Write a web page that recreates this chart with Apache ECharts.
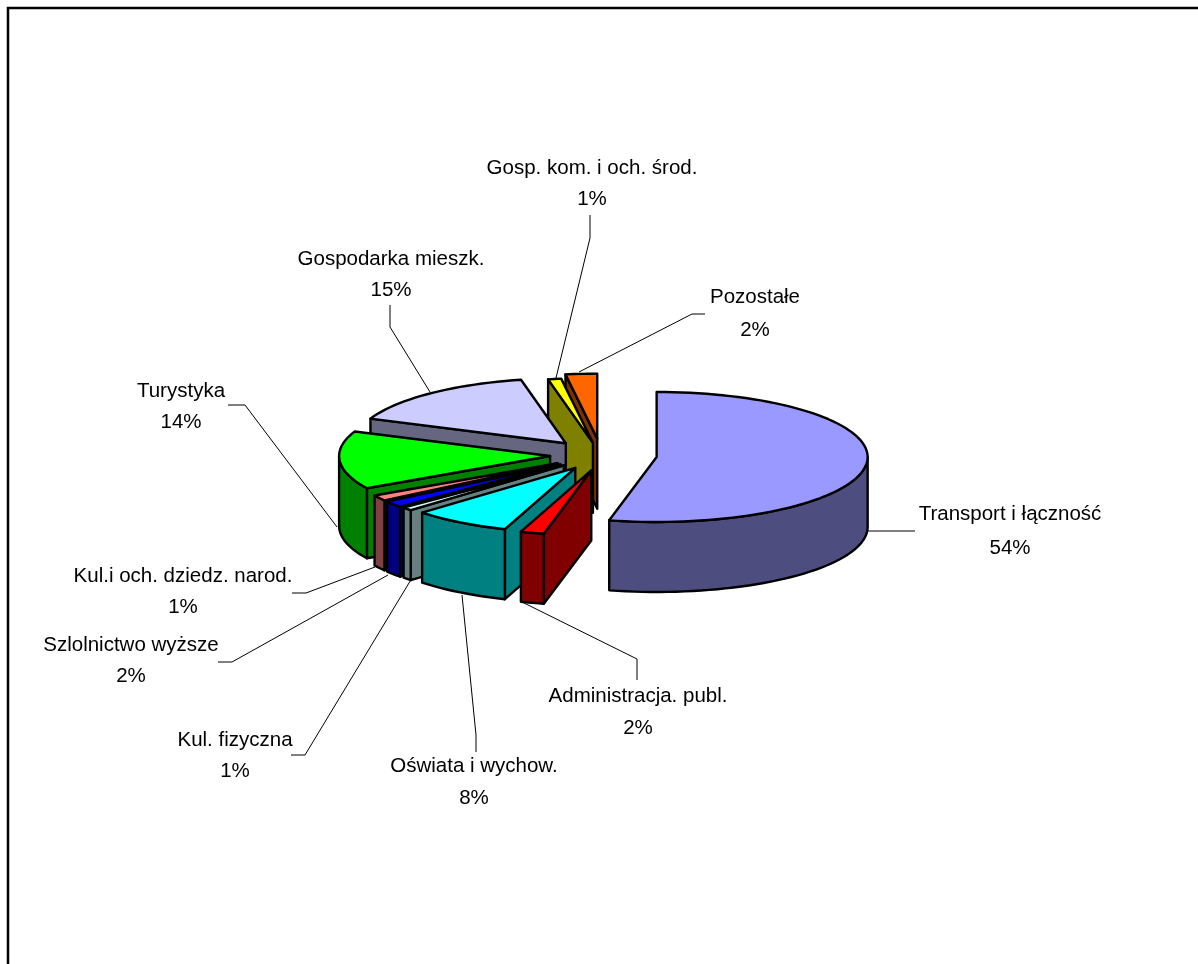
<!DOCTYPE html>
<html><head><meta charset="utf-8">
<style>html,body{margin:0;padding:0;background:#fff;overflow:hidden}#c{width:1198px;height:964px}</style>
<script src="https://cdn.jsdelivr.net/npm/echarts@6/dist/echarts.min.js"></script>
</head><body><div id="c"></div>
<script>
const categories = ['Transport i łączność','Administracja. publ.','Oświata i wychow.','Kul. fizyczna','Szlolnictwo wyższe','Kul.i och. dziedz. narod.','Turystyka','Gospodarka mieszk.','Gosp. kom. i och. środ.','Pozostałe'];
const shares = [53.5,1.8,7.5,0.8,1.6,1.4,14.4,15.4,1.0,2.4];
const topColors = ['#9999FF','#FF0000','#00FFFF','#CCFFFF','#0000FF','#FF8080','#00FF00','#CCCCFF','#FFFF00','#FF6600'];
const sideColors = ['#4D4D80','#800000','#008080','#668080','#000080','#804040','#008000','#666680','#808000','#803300'];
// label layout: [centre x, first line y, second line y]
const labelPos = [[1010,514,548],[638,696,728],[474,766,798],[235,740,771],[131,645,676],[183,576,607],[181,391,422],[391,259,290],[592,168,199],[755,297,330]];
// leader lines
const leaders = [
 [[868,531],[915,531]],
 [[522,602],[637,659],[637,680]],
 [[462,595],[476,735],[476,752]],
 [[412,578],[305,755],[291,755]],
 [[388,575],[232,662],[218,662]],
 [[375,567],[306,593],[292,593]],
 [[337,527],[245,405],[228,405]],
 [[430,392],[390,327],[390,305]],
 [[556,378],[590,238],[590,215]],
 [[579,372],[692,314],[705,314]]
];
const geo = {cx:600, cy:455, a:211, b:65, h:70};
const explode = [57,42,50,50,50,50,50,50,50,50];
// small per-slice placement corrections [dx,dy]
const nudge = [[0,0],[3,3],[2.5,0],[1,0],[0,0],[0,0],[0,0],[-2,0],[2,3],[1,-1]];
const total = shares.reduce((s,v)=>s+v,0);
const starts = []; shares.reduce((acc,v,i)=>{starts[i]=acc;return acc+v;},0);
const rad = p => p/total*2*Math.PI;
function ring(apex,t){return [apex[0]+geo.a*Math.sin(t), apex[1]-geo.b*Math.cos(t)];}
function arc(apex,t1,t2){
  const pts=[], n=Math.max(2,Math.ceil(Math.abs(t2-t1)/0.04));
  for(let i=0;i<=n;i++) pts.push(ring(apex,t1+(t2-t1)*i/n));
  return pts;
}
const down = pts => pts.map(p=>[p[0],p[1]+geo.h]);
function poly(points,fill){
  return {type:'polygon',shape:{points},style:{fill,stroke:'#000',lineWidth:2.4,lineJoin:'round'}};
}
function renderSlice(params,api){
  const i=api.value(0);
  const t1=rad(starts[i]), t2=rad(starts[i]+shares[i]), mid=(t1+t2)/2, d=explode[i];
  const apex=[geo.cx+d*Math.sin(mid)+nudge[i][0], geo.cy-d*geo.b/geo.a*Math.cos(mid)+nudge[i][1]];
  const kids=[];
  const side=sideColors[i];
  if(t2<Math.PI){const e=ring(apex,t2);const w=[apex,e];kids.push(poly(w.concat(down(w).reverse()),side));}
  if(t1>Math.PI){const e=ring(apex,t1);const w=[apex,e];kids.push(poly(w.concat(down(w).reverse()),side));}
  const w1=Math.max(t1,Math.PI/2), w2=Math.min(t2,Math.PI*1.5);
  if(w2>w1){const w=arc(apex,w1,w2);kids.push(poly(w.concat(down(w).reverse()),side));}
  kids.push(poly([apex].concat(arc(apex,t1,t2)),topColors[i]));
  return {type:'group',children:kids};
}
function renderLabel(params,api){
  const i=api.value(0), p=labelPos[i];
  const font={fontFamily:'"Liberation Sans",Arial,sans-serif',fontSize:20.5,fill:'#000',textAlign:'center',textVerticalAlign:'middle'};
  return {type:'group',children:[
    {type:'polyline',shape:{points:leaders[i]},style:{fill:null,stroke:'#000',lineWidth:1}},
    {type:'text',style:Object.assign({text:categories[i],x:p[0],y:p[1]},font)},
    {type:'text',style:Object.assign({text:Math.round(shares[i]/total*100)+'%',x:p[0],y:p[2]},font)}
  ]};
}
const order = categories.map((_,i)=>[i]).reverse();
const chart = echarts.init(document.getElementById('c'),null,{renderer:'canvas'});
chart.setOption({
  animation:false,
  backgroundColor:'#fff',
  graphic:[{type:'rect',shape:{x:8,y:8,width:1400,height:1200},style:{fill:'#fff',stroke:'#000',lineWidth:2.5},silent:true,z:-1}],
  series:[
    {type:'custom',coordinateSystem:'none',data:order,renderItem:renderSlice,silent:true,z:2},
    {type:'custom',coordinateSystem:'none',data:order,renderItem:renderLabel,silent:true,z:3}
  ]
});
</script></body></html>
